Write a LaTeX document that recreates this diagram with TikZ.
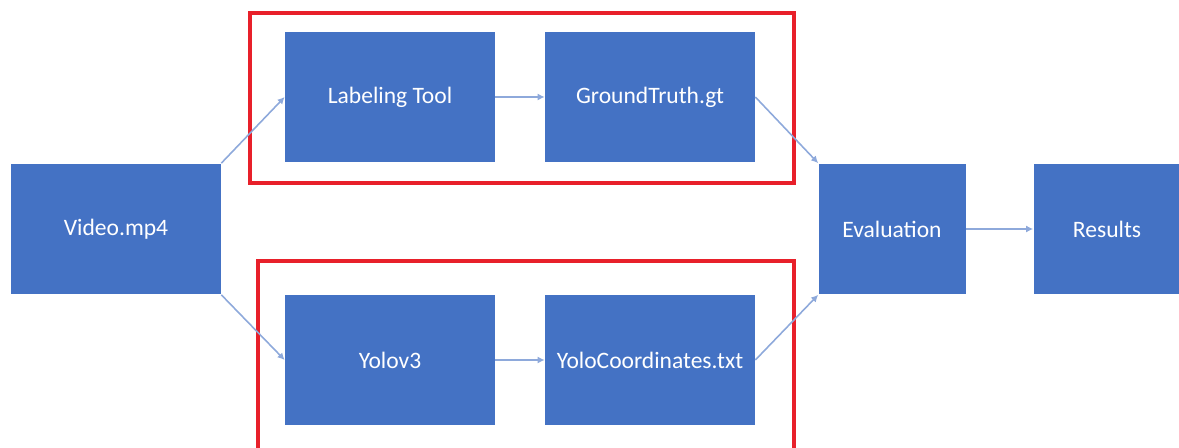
\documentclass[tikz,border=0pt]{standalone}
\usepackage{fontspec}
\setmainfont{Carlito}
\usepackage{tikz}
\usetikzlibrary{arrows.meta}
\definecolor{boxblue}{HTML}{4472C4}
\definecolor{linkblue}{HTML}{8EA9DB}
\definecolor{framered}{HTML}{E8202A}
\tikzset{
  block/.style={fill=boxblue, text=white, font=\fontsize{13.4}{15}\selectfont,
    minimum width=4.2cm, minimum height=2.62cm, inner sep=0pt},
  smallblock/.style={block, minimum width=2.94cm},
  link/.style={draw=linkblue, line width=0.9pt, -{Latex[length=4pt,width=4pt]}},
  frame/.style={draw=framered, line width=2.8pt},
}
\begin{document}
\begin{tikzpicture}[x=0.02cm, y=-0.02cm]
  \useasboundingbox (0,0) rectangle (1179,448);
  \clip (0,0) rectangle (1179,448);

  % blocks
  \node[block] (video) at (116,229) {Video.mp4};
  \node[block] (label) at (390,97) {Labeling Tool};
  \node[block] (gt) at (650,97) {GroundTruth.gt};
  \node[block] (yolo) at (390,360) {Yolov3};
  \node[block] (coords) at (650,360) {YoloCoordinates.txt};
  \node[smallblock] (eval) at (892,229) {Evaluation};
  \node[smallblock] (results) at (1107,229) {Results};

  % red frames
  \draw[frame] (250,13) rectangle (794,183);
  \draw[frame] (258,261) rectangle (794,460);

  % links
  \draw[link] (video.north east) -- (label.west);
  \draw[link] (video.south east) -- (yolo.west);
  \draw[link] (label) -- (gt);
  \draw[link] (yolo) -- (coords);
  \draw[link] (gt.east) -- (eval.north west);
  \draw[link] (coords.east) -- (eval.south west);
  \draw[link] (eval) -- (results);
\end{tikzpicture}
\end{document}
